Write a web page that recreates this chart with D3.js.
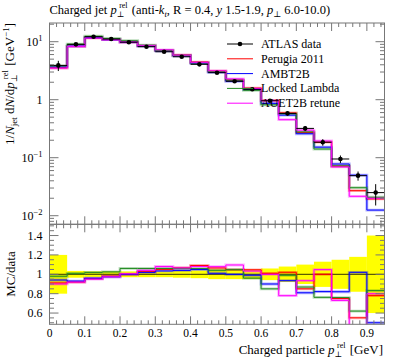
<!DOCTYPE html>
<html><head><meta charset="utf-8">
<script src="https://cdn.jsdelivr.net/npm/d3@7"></script>
<style>
body{margin:0;background:#fff}
svg{display:block}
text{font-family:"Liberation Serif","DejaVu Serif",serif;fill:#000}
</style>
</head><body>
<svg id="c" width="397" height="358"></svg>
<script>
// ---------- data ----------
const binEdges = [0,0.05,0.1,0.15,0.2,0.25,0.3,0.35,0.4,0.45,0.5,0.55,0.6,0.65,0.7,0.75,0.8,0.85,0.9,0.95];
const dataVals   = [3.9,9.0,12.2,11.1,9.8,8.2,6.7,5.5,4.07,2.92,2.08,1.51,0.96,0.58,0.32,0.185,0.095,0.049,0.025];
const dataRelErr = [0.2,0.035,0.03,0.03,0.03,0.03,0.03,0.035,0.04,0.05,0.05,0.05,0.06,0.08,0.1,0.13,0.15,0.18,0.4];
const perugia    = [3.55,8.28,11.65,10.88,9.8,8.45,7.04,5.86,4.44,3.11,2.18,1.58,0.97,0.592,0.272,0.185,0.0713,0.027,0.0195];
const ambt2b     = [3.67,8.37,11.71,10.82,9.8,8.36,6.93,5.72,4.27,2.95,2.08,1.495,0.864,0.542,0.259,0.152,0.0779,0.05,0.0125];
const lockedLam  = [3.82,9.09,12.44,11.38,10.39,8.69,7.10,5.83,4.31,3.04,2.18,1.45,0.816,0.574,0.278,0.141,0.0722,0.0304,0.0208];
const auet2b     = [3.51,8.28,11.59,10.82,9.85,8.53,7.24,5.86,4.40,3.15,2.28,1.56,0.96,0.452,0.299,0.194,0.0694,0.0216,0.02];
const seriesNames  = ["Perugia 2011","AMBT2B","Locked Lambda","AUET2B retune"];
const seriesColors = ["#ff0000","#0000ff","#228b22","#ff00ff"];
const xTicks      = [0,0.1,0.2,0.3,0.4,0.5,0.6,0.7,0.8,0.9];
const xTickLabels = ["0","0.1","0.2","0.3","0.4","0.5","0.6","0.7","0.8","0.9"];
const ratioTicks      = [0.6,0.8,1,1.2,1.4];
const ratioTickLabels = ["0.6","0.8","1","1.2","1.4"];
const logTicks = [10,1,0.1,0.01];
const logTickBase = ["10","1","10","10"];
const logTickExp  = ["1","","\u22121","\u22122"];

// ---------- layout ----------
const L=49.5, R=384.5, mainTop=23, mainBot=224.3, ratTop=224.3, ratBot=324.3;
const svg = d3.select("#c");
const x  = d3.scaleLinear([0,0.95],[L,R]);
const y  = d3.scaleLog([0.00711,21],[mainBot,mainTop]);
const yr = d3.scaleLinear([0.484,1.516],[ratBot,ratTop]);
const frameCol = "#777";

const defs = svg.append("defs");
defs.append("clipPath").attr("id","cm").append("rect").attr("x",L).attr("y",mainTop).attr("width",R-L).attr("height",mainBot-mainTop);
defs.append("clipPath").attr("id","cr").append("rect").attr("x",L).attr("y",ratTop).attr("width",R-L).attr("height",ratBot-ratTop);

function stepPts(vals){
  const pts=[];
  vals.forEach((v,i)=>{pts.push([binEdges[i],v]);pts.push([binEdges[i+1],v]);});
  return pts;
}

// ---------- main panel ----------
const gm = svg.append("g").attr("clip-path","url(#cm)");
const lineM = d3.line().x(d=>x(d[0])).y(d=>y(d[1]));
const mcs = [perugia, ambt2b, lockedLam, auet2b];
mcs.forEach((s,k)=>{
  gm.append("path").attr("d",lineM(stepPts(s))).attr("fill","none")
    .attr("stroke",seriesColors[k]).attr("stroke-width",2.8).attr("stroke-opacity",0.3);
});
mcs.forEach((s,k)=>{
  gm.append("path").attr("d",lineM(stepPts(s))).attr("fill","none")
    .attr("stroke",seriesColors[k]).attr("stroke-width",1);
});
dataVals.forEach((v,i)=>{
  const cx = x((binEdges[i]+binEdges[i+1])/2);
  const e = v*dataRelErr[i];
  gm.append("line").attr("x1",x(binEdges[i])).attr("x2",x(binEdges[i+1])).attr("y1",y(v)).attr("y2",y(v)).attr("stroke","#000").attr("stroke-width",1);
  gm.append("line").attr("x1",cx).attr("x2",cx).attr("y1",y(v+e)).attr("y2",y(Math.max(v-e,1e-4))).attr("stroke","#000").attr("stroke-width",1);
  gm.append("circle").attr("cx",cx).attr("cy",y(v)).attr("r",2.3).attr("fill","#000");
});

// ---------- ratio panel ----------
const gr = svg.append("g").attr("clip-path","url(#cr)");
dataRelErr.forEach((e,i)=>{
  gr.append("rect").attr("x",x(binEdges[i])).attr("width",x(binEdges[i+1])-x(binEdges[i]))
    .attr("y",yr(1+e)).attr("height",yr(1-e)-yr(1+e)).attr("fill","#ffff00");
});
gr.append("line").attr("x1",L).attr("x2",R).attr("y1",yr(1)).attr("y2",yr(1)).attr("stroke","#000").attr("stroke-width",0.8);
const lineR = d3.line().x(d=>x(d[0])).y(d=>yr(d[1]));
const ratios = mcs.map(s=>s.map((v,i)=>v/dataVals[i]));
ratios.forEach((s,k)=>{
  gr.append("path").attr("d",lineR(stepPts(s))).attr("fill","none")
    .attr("stroke",seriesColors[k]).attr("stroke-width",2.8).attr("stroke-opacity",0.3);
});
ratios.forEach((s,k)=>{
  gr.append("path").attr("d",lineR(stepPts(s))).attr("fill","none")
    .attr("stroke",seriesColors[k]).attr("stroke-width",1);
});

// ---------- frames & ticks ----------
const ga = svg.append("g").attr("stroke",frameCol).attr("stroke-width",1).attr("fill","none");
ga.append("rect").attr("x",L).attr("y",mainTop).attr("width",R-L).attr("height",mainBot-mainTop);
ga.append("rect").attr("x",L).attr("y",ratTop).attr("width",R-L).attr("height",ratBot-ratTop);
function tick(x1,y1,x2,y2){ga.append("line").attr("x1",x1).attr("y1",y1).attr("x2",x2).attr("y2",y2);}
const xMinor = d3.range(0,95,2).map(d=>d/100);
[[mainTop,1],[mainBot,-1],[ratTop,1],[ratBot,-1]].forEach(([yy,dir])=>{
  xMinor.forEach(t=>{
    const maj = xTicks.some(m=>Math.abs(m-t)<1e-9);
    const len = maj?8:4;
    tick(x(t),yy,x(t),yy+dir*len);
  });
});
[0.001,0.01,0.1,1,10].forEach(d=>{
  for(let k=1;k<=9;k++){
    const v=k*d;
    if(v<y.domain()[0]||v>y.domain()[1]) continue;
    const len = k===1?9:4.5;
    tick(L,y(v),L+len,y(v));
    tick(R,y(v),R-len,y(v));
  }
});
d3.range(50,152,5).map(d=>d/100).forEach(v=>{
  if(v<yr.domain()[0]||v>yr.domain()[1]) return;
  const maj = ratioTicks.some(m=>Math.abs(m-v)<1e-9);
  const len = maj?9:4.5;
  tick(L,yr(v),L+len,yr(v));
  tick(R,yr(v),R-len,yr(v));
});

// ---------- tick labels ----------
const fs=12;
logTicks.forEach((v,i)=>{
  const t = svg.append("text").attr("x",L-7).attr("y",y(v)+4).attr("text-anchor","end").attr("font-size",fs);
  t.append("tspan").text(logTickBase[i]);
  if(logTickExp[i]) t.append("tspan").attr("dy",-5).attr("font-size",8.5).text(logTickExp[i]);
});
ratioTicks.forEach((v,i)=>{
  svg.append("text").attr("x",L-7).attr("y",yr(v)+4).attr("text-anchor","end").attr("font-size",fs).text(ratioTickLabels[i]);
});
xTicks.forEach((v,i)=>{
  svg.append("text").attr("x",x(v)).attr("y",336.5).attr("text-anchor","middle").attr("font-size",11.5).text(xTickLabels[i]);
});

// p-perp-rel helper: subscript ⊥ and superscript "rel" stacked
function pperp(t, fsz){
  t.append("tspan").attr("font-style","italic").text("p");
  t.append("tspan").attr("dy",3).attr("font-size",fsz).text("\u22a5");
  t.append("tspan").attr("dy",-9.5).attr("dx",-5).attr("font-size",fsz).text("rel");
  t.append("tspan").attr("dy",6.5).text("\u200a");
}

// ---------- titles ----------
const title = svg.append("text").attr("x",L).attr("y",14).attr("font-size",12.5);
title.append("tspan").text("Charged jet ");
pperp(title, 8);
title.append("tspan").text(" (anti-");
title.append("tspan").attr("font-style","italic").text("k");
title.append("tspan").attr("dy",3).attr("font-size",8.5).attr("font-style","italic").text("t");
title.append("tspan").attr("dy",-3).text(", R = 0.4, ");
title.append("tspan").attr("font-style","italic").text("y");
title.append("tspan").text(" 1.5-1.9, ");
title.append("tspan").attr("font-style","italic").text("p");
title.append("tspan").attr("dy",3).attr("font-size",8.5).text("\u22a5");
title.append("tspan").attr("dy",-3).text(" 6.0-10.0)");

// x label
const xl = svg.append("text").attr("x",383).attr("y",354).attr("text-anchor","end").attr("font-size",13);
xl.append("tspan").text("Charged particle ");
pperp(xl, 8);
xl.append("tspan").text(" [GeV]");

// y label main
const yl = svg.append("text").attr("transform",`translate(14,${mainTop}) rotate(-90)`).attr("text-anchor","end").attr("font-size",13);
yl.append("tspan").text("1/");
yl.append("tspan").attr("font-style","italic").text("N");
yl.append("tspan").attr("dy",3).attr("font-size",9).text("jet");
yl.append("tspan").attr("dy",-3).text(" d");
yl.append("tspan").attr("font-style","italic").text("N");
yl.append("tspan").text("/d");
pperp(yl, 8.5);
yl.append("tspan").text(" [GeV");
yl.append("tspan").attr("dy",-5).attr("font-size",9).text("\u22121");
yl.append("tspan").attr("dy",5).text("]");

// y label ratio
svg.append("text").attr("transform",`translate(15,274) rotate(-90)`).attr("text-anchor","middle").attr("font-size",13).text("MC/data");

// ---------- legend ----------
const legY0=44, legDy=14.8, lx1=227, lx2=253, ltx=261;
const lg = svg.append("g");
lg.append("line").attr("x1",lx1).attr("x2",lx2).attr("y1",legY0).attr("y2",legY0).attr("stroke","#000").attr("stroke-width",1);
lg.append("circle").attr("cx",(lx1+lx2)/2).attr("cy",legY0).attr("r",2.3).attr("fill","#000");
lg.append("text").attr("x",ltx).attr("y",legY0+4).attr("font-size",12).text("ATLAS data");
seriesNames.forEach((n,k)=>{
  const yy = legY0+legDy*(k+1);
  lg.append("line").attr("x1",lx1).attr("x2",lx2).attr("y1",yy).attr("y2",yy).attr("stroke",seriesColors[k]).attr("stroke-width",1);
  lg.append("text").attr("x",ltx).attr("y",yy+4).attr("font-size",12).text(n);
});
</script>
</body></html>
